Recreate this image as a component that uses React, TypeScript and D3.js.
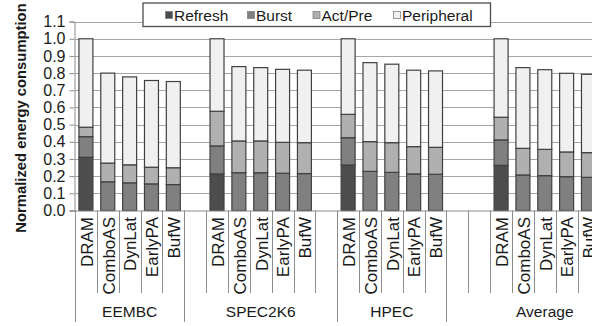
import { useEffect, useRef } from 'react'
import * as d3 from 'd3'

const benchmarks = ['EEMBC', 'SPEC2K6', 'HPEC', 'Average']
const schemes = ['DRAM', 'ComboAS', 'DynLat', 'EarlyPA', 'BufW']
const components = ['Refresh', 'Burst', 'Act/Pre', 'Peripheral']

// empty slots before / after each benchmark group on the category axis
const padBefore = [0, 1, 0, 2]
const padAfter = [0, 1, 0, 2]

// per bar, benchmark-major order (EEMBC x5, SPEC2K6 x5, HPEC x5, Average x5)
const refresh = [0.31, 0, 0, 0, 0, 0.213, 0, 0, 0, 0, 0.265, 0, 0, 0, 0, 0.263, 0, 0, 0, 0]
const burst = [0.12, 0.167, 0.161, 0.155, 0.151, 0.163, 0.22, 0.22, 0.217, 0.215, 0.159, 0.228, 0.222, 0.213, 0.211, 0.148, 0.207, 0.203, 0.197, 0.193]
const actPre = [0.055, 0.109, 0.105, 0.097, 0.098, 0.202, 0.185, 0.185, 0.18, 0.18, 0.136, 0.173, 0.173, 0.159, 0.157, 0.132, 0.155, 0.153, 0.144, 0.144]
const peripheral = [0.515, 0.524, 0.512, 0.505, 0.502, 0.422, 0.433, 0.427, 0.425, 0.422, 0.44, 0.46, 0.457, 0.445, 0.445, 0.457, 0.47, 0.464, 0.458, 0.456]

const yTicks = [0, 0.1, 0.2, 0.3, 0.4, 0.5, 0.6, 0.7, 0.8, 0.9, 1.0, 1.1]

const colors = ['#4d4d4d', '#808080', '#b0b0b0', '#f0f0f0']

export default function App() {
  const svgRef = useRef<SVGSVGElement>(null)
  const width = 592
  const height = 326

  useEffect(() => {
    if (!svgRef.current) return
    const svg = d3.select(svgRef.current)
    svg.selectAll('*').remove()

    const font = "'Liberation Sans', Arial, sans-serif"
    const x0 = 75
    const slotW = 21.85

    // build slot list
    const slots: { key: string; bench: number; scheme: number }[] = []
    benchmarks.forEach((b, bi) => {
      for (let i = 0; i < padBefore[bi]; i++) slots.push({ key: `${b}-pre${i}`, bench: bi, scheme: -1 })
      schemes.forEach((s, si) => slots.push({ key: `${b}-${s}`, bench: bi, scheme: si }))
      for (let i = 0; i < padAfter[bi]; i++) slots.push({ key: `${b}-post${i}`, bench: bi, scheme: -1 })
    })

    const x = d3.scaleBand().domain(slots.map(d => d.key)).range([x0, x0 + slots.length * slotW]).paddingInner(0.36).paddingOuter(0.18)
    const xOuter = d3.scaleBand().domain(slots.map(d => d.key)).range([x0, x0 + slots.length * slotW]).padding(0)
    const y = d3.scaleLinear().domain([0, 1.1]).range([210.5, 21.6])

    // gridlines
    svg.append('g').selectAll('line').data(yTicks.slice(1)).join('line')
      .attr('x1', x0).attr('x2', width + 100)
      .attr('y1', d => Math.round(y(d)) + 0.5).attr('y2', d => Math.round(y(d)) + 0.5)
      .attr('stroke', '#a6a6a6').attr('stroke-width', 1)

    // y axis
    const yAxis = svg.append('g').attr('transform', `translate(${x0 - 0.5},0)`)
      .call(d3.axisLeft(y).tickValues(yTicks).tickFormat(d3.format('.1f')).tickSize(5).tickPadding(4))
    yAxis.selectAll('.domain').attr('stroke', '#8c8c8c')
    yAxis.selectAll('.tick line').attr('stroke', '#8c8c8c')
    yAxis.selectAll('text').attr('fill', '#1a1a1a').attr('font-size', 16).attr('font-family', font)

    // stacked bars
    const series = [refresh, burst, actPre, peripheral]
    const bars = slots.filter(s => s.scheme >= 0).map((s, i) => ({ ...s, vals: series.map(arr => arr[i]) }))
    const g = svg.append('g')
    bars.forEach(b => {
      let acc = 0
      b.vals.forEach((v, ci) => {
        if (v <= 0) return
        const y0 = y(acc)
        const y1 = y(acc + v)
        g.append('rect')
          .attr('x', x(b.key)!)
          .attr('y', y1)
          .attr('width', x.bandwidth())
          .attr('height', y0 - y1)
          .attr('fill', colors[ci])
          .attr('stroke', '#404040')
          .attr('stroke-width', 1.2)
        acc += v
      })
    })

    // x axis line
    svg.append('line').attr('x1', x0 - 5).attr('x2', width + 100)
      .attr('y1', y(0) + 0.5).attr('y2', y(0) + 0.5).attr('stroke', '#8c8c8c')

    // slot separators
    const axisY = y(0)
    const groupStarts: number[] = []
    slots.forEach((s, i) => {
      if (i === 0 || slots[i - 1].bench !== s.bench) groupStarts.push(i)
    })
    d3.range(slots.length + 1).forEach(i => {
      const isGroup = groupStarts.includes(i) || i === slots.length
      const xx = Math.round(x0 + i * slotW) + 0.5
      svg.append('line').attr('x1', xx).attr('x2', xx)
        .attr('y1', axisY).attr('y2', isGroup ? 322 : 293)
        .attr('stroke', '#8c8c8c')
    })

    // scheme labels
    bars.forEach(b => {
      const cx = xOuter(b.key)! + xOuter.bandwidth() / 2
      svg.append('text')
        .attr('transform', `translate(${cx},217) rotate(-90)`)
        .attr('text-anchor', 'end')
        .attr('dy', '0.4em')
        .attr('font-size', 17)
        .attr('font-family', font)
        .attr('fill', '#1a1a1a')
        .text(schemes[b.scheme])
    })

    // benchmark labels
    benchmarks.forEach((bn, bi) => {
      const idx = slots.map((s, i) => (s.bench === bi ? i : -1)).filter(i => i >= 0)
      const cx = x0 + ((idx[0] + idx[idx.length - 1] + 1) / 2) * slotW
      svg.append('text')
        .attr('x', cx).attr('y', 317)
        .attr('text-anchor', 'middle')
        .attr('font-size', 15.5)
        .attr('font-family', font)
        .attr('fill', '#1a1a1a')
        .text(bn)
    })

    // y title
    svg.append('text')
      .attr('transform', `translate(25.5,118) rotate(-90)`)
      .attr('text-anchor', 'middle')
      .attr('font-size', 14.8)
      .attr('font-weight', 'bold')
      .attr('font-family', font)
      .attr('fill', '#1a1a1a')
      .text('Normalized energy consumption')

    // legend
    const lg = svg.append('g')
    lg.append('rect').attr('x', 143).attr('y', 3).attr('width', 347.5).attr('height', 23.5)
      .attr('fill', '#ffffff').attr('stroke', '#4d4d4d').attr('stroke-width', 1.3)
    const itemX = [165.5, 247.5, 313, 393.5]
    components.forEach((c, ci) => {
      lg.append('rect').attr('x', itemX[ci]).attr('y', 11.5).attr('width', 7).attr('height', 7)
        .attr('fill', colors[ci]).attr('stroke', '#808080').attr('stroke-width', 0.8)
      lg.append('text').attr('x', itemX[ci] + 8.5).attr('y', 20.5)
        .attr('font-size', 15.5).attr('font-family', font).attr('fill', '#1a1a1a')
        .text(c)
    })
  }, [])

  return (
    <svg ref={svgRef} width={width} height={height}
      style={{ position: 'absolute', left: 0, top: 0, background: '#ffffff', overflow: 'hidden' }} />
  )
}
